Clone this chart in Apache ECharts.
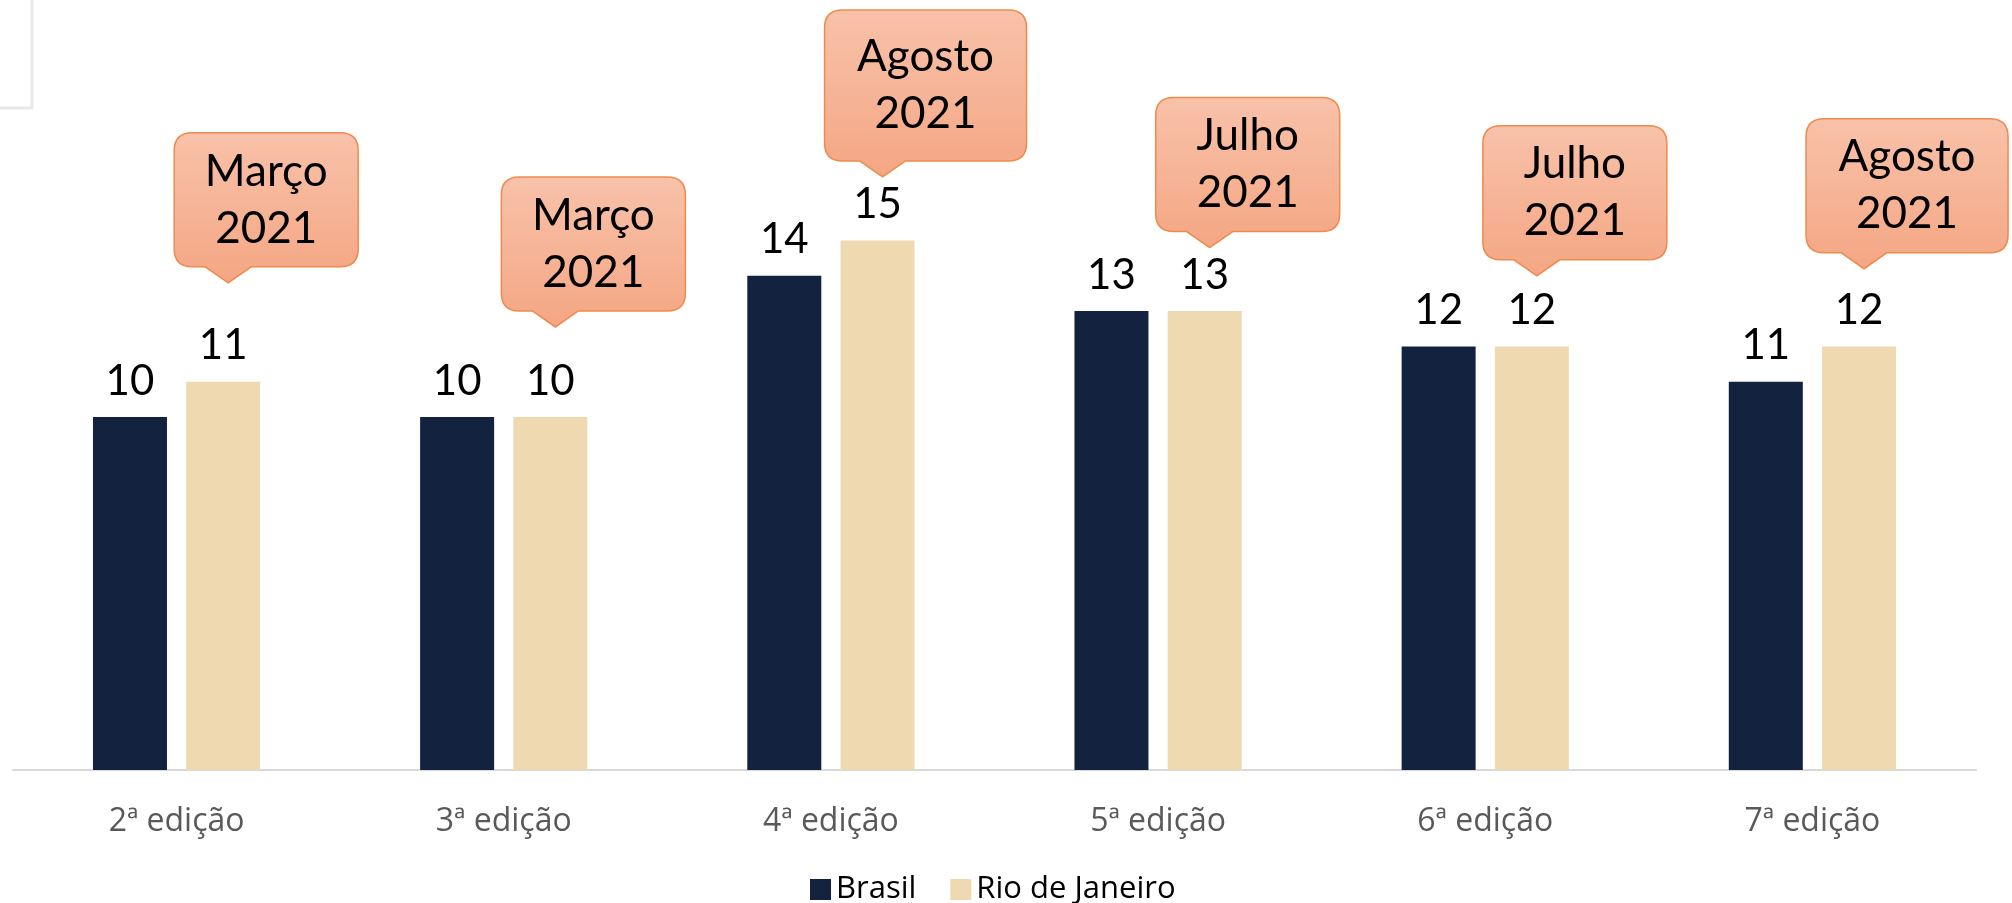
<!DOCTYPE html>
<html>
<head>
<meta charset="utf-8">
<title>Edições</title>
<script src="https://cdn.jsdelivr.net/npm/echarts@6/dist/echarts.min.js"></script>
<style>
  html, body { margin: 0; padding: 0; background: #fff; }
  #chart { width: 2012px; height: 903px; }
</style>
</head>
<body>
<div id="chart"></div>
<script>
// dados
var categories = ["2ª edição", "3ª edição", "4ª edição", "5ª edição", "6ª edição", "7ª edição"];
var brasil = [10, 10, 14, 13, 12, 11];
var rioDeJaneiro = [11, 10, 15, 13, 12, 12];
// balões: mês/ano e altura da ponta (em unidades do eixo)
var calloutMonth = ["Março", "Março", "Agosto", "Julho", "Julho", "Agosto"];
var calloutYear = ["2021", "2021", "2021", "2021", "2021", "2021"];
var calloutTip = [13.8, 12.55, 16.8, 14.8, 14.0, 14.2];

// estilo
var BAR_W = 74;
var BAR_GAP = 0.26;
var RJ_OFFSET = (BAR_W + BAR_W * BAR_GAP) / 2 + 5;
var boxHeights = [134, 134, 151, 134, 134, 134];

function calloutPath(tipX, tipY, w, h, offL) {
  var L = tipX - offL, R = L + w, B = tipY - 16, T = B - h, r = 18;
  return "M" + (L + r) + "," + T +
    " L" + (R - r) + "," + T +
    " Q" + R + "," + T + " " + R + "," + (T + r) +
    " L" + R + "," + (B - r) +
    " Q" + R + "," + B + " " + (R - r) + "," + B +
    " L" + (tipX + 23) + "," + B +
    " L" + tipX + "," + tipY +
    " L" + (tipX - 23) + "," + B +
    " L" + (L + r) + "," + B +
    " Q" + L + "," + B + " " + L + "," + (B - r) +
    " L" + L + "," + (T + r) +
    " Q" + L + "," + T + " " + (L + r) + "," + T + " Z";
}

function renderCallout(params, api) {
  var i = api.value(0);
  var pt = api.coord([i, api.value(1)]);
  var tipX = pt[0] + RJ_OFFSET;
  var tipY = pt[1];
  var wide = calloutMonth[i] === "Agosto";
  var w = wide ? 202 : 184;
  var offL = wide ? 58 : 54;
  var h = boxHeights[i];
  var L = tipX - offL;
  var B = tipY - 16;
  return {
    type: "group",
    children: [
      {
        type: "path",
        shape: { pathData: calloutPath(tipX, tipY, w, h, offL) },
        style: {
          fill: new echarts.graphic.LinearGradient(0, 0, 0, 1, [
            { offset: 0, color: "#F8C2AA" },
            { offset: 1, color: "#F4A683" }
          ]),
          stroke: "#EE8A4C",
          lineWidth: 1.5
        }
      },
      {
        type: "text",
        style: {
          text: calloutMonth[i] + "\n" + calloutYear[i],
          x: L + w / 2,
          y: B - h / 2,
          align: "center",
          verticalAlign: "middle",
          fontFamily: "Lato",
          fontSize: 44,
          lineHeight: 57,
          fill: "#000"
        }
      }
    ]
  };
}

var chart = echarts.init(document.getElementById("chart"));
chart.setOption({
  animation: false,
  backgroundColor: "#fff",
  grid: { left: 13, right: 36, top: 64, bottom: 133, containLabel: false },
  legend: {
    data: ["Brasil", "Rio de Janeiro"],
    left: 805,
    top: 869,
    itemWidth: 21,
    itemHeight: 21,
    itemGap: 34,
    icon: "rect",
    textStyle: { fontFamily: "Open Sans", fontSize: 31, color: "#000" }
  },
  xAxis: {
    type: "category",
    data: categories,
    axisLine: { lineStyle: { color: "#D9D9D9", width: 2 } },
    axisTick: { show: false },
    axisLabel: { margin: 36, fontFamily: "Open Sans", fontSize: 32, color: "#595959" }
  },
  yAxis: { type: "value", min: 0, max: 20, show: false },
  graphic: [
    {
      type: "rect",
      shape: { x: -10, y: -10, width: 42, height: 118 },
      style: { fill: "none", stroke: "#E8E8E8", lineWidth: 3 }
    }
  ],
  series: [
    {
      name: "Brasil",
      type: "bar",
      data: brasil,
      barWidth: BAR_W,
      barGap: BAR_GAP * 100 + "%",
      itemStyle: { color: "#12223F" },
      label: { show: true, position: "top", distance: 15, fontFamily: "Lato", fontSize: 42, color: "#000" }
    },
    {
      name: "Rio de Janeiro",
      type: "bar",
      data: rioDeJaneiro,
      barWidth: BAR_W,
      itemStyle: { color: "#EED9B0" },
      label: { show: true, position: "top", distance: 15, fontFamily: "Lato", fontSize: 42, color: "#000" }
    },
    {
      name: "balões",
      type: "custom",
      clip: false,
      z: 5,
      renderItem: renderCallout,
      data: calloutTip.map(function (v, i) { return [i, v]; })
    }
  ]
});
</script>
</body>
</html>
